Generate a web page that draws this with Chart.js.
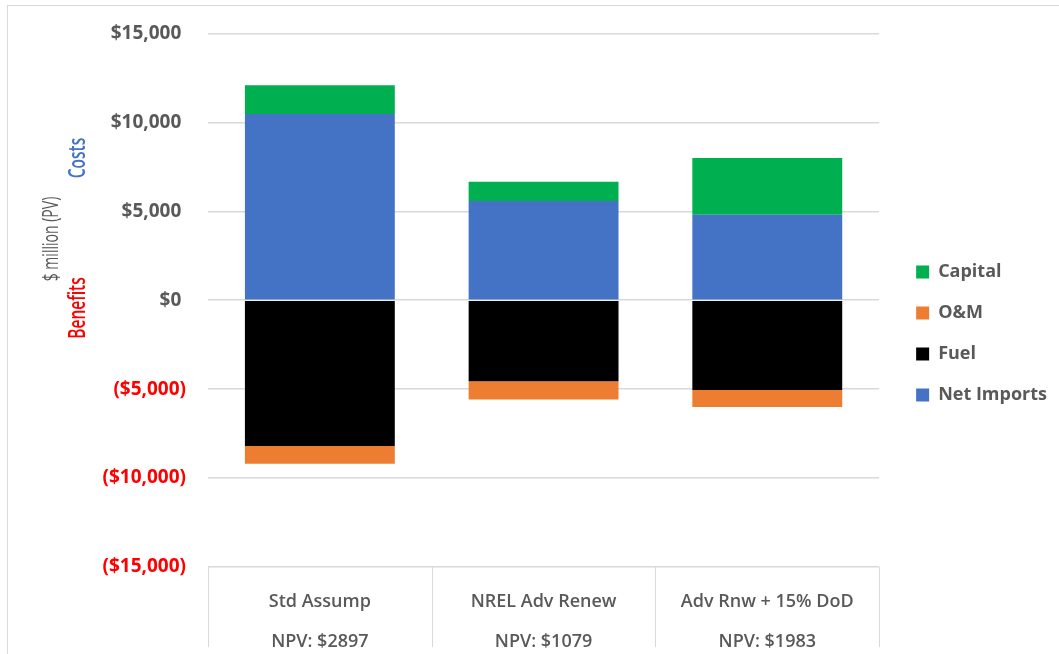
<!DOCTYPE html>
<html>
<head>
<meta charset="utf-8">
<script src="https://cdn.jsdelivr.net/npm/chart.js@4.4.1/dist/chart.umd.min.js"></script>
<style>
    html, body { margin: 0; padding: 0; background: #fff; overflow: hidden; }
    #frame { position: absolute; left: 7px; top: 5px; width: 1100px; height: 700px; border: 1px solid #d9d9d9; }
    #wrap { position: absolute; left: 0; top: 0; width: 1059px; height: 654px; }
</style>
</head>
<body>
<div id="frame"></div>
<div id="wrap"><canvas id="chart"></canvas></div>
<script>
    "use strict";

    // data ($ million PV)
    const categories = [
        ["Std Assump", "NPV: $2897"],
        ["NREL Adv Renew", "NPV: $1079"],
        ["Adv Rnw + 15% DoD", "NPV: $1983"],
    ];
    const netImports = [10470, 5580, 4800];
    const fuel = [-8200, -4550, -5050];
    const oandm = [-993, -1031, -957];
    const capital = [1620, 1080, 3190];
    const yTicks = [-15000, -10000, -5000, 0, 5000, 10000, 15000];

    const GRAY = "#595959";
    const RED = "#ff0000";
    const BLUE = "#4472c4";
    const FONT = "'Open Sans', 'Noto Sans', sans-serif";

    function money(v) {
        const s = "$" + Math.abs(v).toLocaleString("en-US");
        return v < 0 ? "(" + s + ")" : s + "\u2005";
    }

    // rotated three-colour axis title
    const axisTitle = {
        id: "axisTitle",
        afterDraw(chart) {
            const ctx = chart.ctx;
            const put = (text, x, y, color, weight, squeeze) => {
                ctx.save();
                ctx.translate(x, y);
                ctx.rotate(-Math.PI / 2);
                ctx.scale(squeeze, 1.25);
                ctx.font = weight + " 18px " + FONT;
                ctx.fillStyle = color;
                ctx.textAlign = "center";
                ctx.textBaseline = "middle";
                ctx.fillText(text, 0, 0);
                ctx.restore();
            };
            put("$ million (PV)", 52, 239, GRAY, "500", 0.78);
            put("Costs", 79, 158, BLUE, "600", 0.86);
            put("Benefits", 79, 308, RED, "600", 0.86);
        },
    };

    // table-like dividers under the category axis
    const catDividers = {
        id: "catDividers",
        afterDraw(chart) {
            const x = chart.scales.x;
            const area = chart.chartArea;
            const half = (x.getPixelForValue(1) - x.getPixelForValue(0)) / 2;
            const ctx = chart.ctx;
            ctx.save();
            ctx.strokeStyle = "#d9d9d9";
            ctx.lineWidth = 1;
            for (let i = 0; i <= categories.length; i++) {
                const px = Math.round(x.getPixelForValue(0) - half + i * half * 2) + 0.5;
                ctx.beginPath();
                ctx.moveTo(px, area.bottom);
                ctx.lineTo(px, area.bottom + 80);
                ctx.stroke();
            }
            ctx.restore();
        },
    };

    // nudge the legend block
    const legendNudge = {
        id: "legendNudge",
        afterLayout(chart) {
            const lg = chart.legend;
            lg.left += 14; lg.right += 14;
            lg.top -= 9; lg.bottom -= 9;
        },
    };

    const chart = new Chart(document.getElementById("chart"), {
        type: "bar",
        data: {
            labels: categories,
            datasets: [
                { label: "Net Imports", data: netImports, backgroundColor: "#4472c4" },
                { label: "Fuel", data: fuel, backgroundColor: "#000000" },
                { label: "O&M", data: oandm, backgroundColor: "#ed7d31" },
                { label: "Capital", data: capital, backgroundColor: "#00b050" },
            ],
        },
        options: {
            responsive: true,
            maintainAspectRatio: false,
            animation: false,
            datasets: {
                bar: { categoryPercentage: 1, barPercentage: 0.67, borderWidth: 0 },
            },
            layout: { padding: { top: 31, left: 0, right: 16, bottom: 0 } },
            plugins: {
                tooltip: { enabled: false },
                legend: {
                    position: "right",
                    reverse: true,
                    labels: {
                        boxWidth: 13,
                        boxHeight: 13,
                        padding: 23,
                        color: GRAY,
                        font: { family: FONT, size: 18, weight: "bold" },
                    },
                },
            },
            scales: {
                x: {
                    stacked: true,
                    grid: { display: false },
                    border: { display: false },
                    ticks: {
                        color: GRAY,
                        padding: 7,
                        maxRotation: 0,
                        font: { family: FONT, size: 18, weight: "600", lineHeight: "40px" },
                    },
                    afterFit: (s) => { s.height = 87; },
                },
                y: {
                    stacked: true,
                    min: yTicks[0],
                    max: yTicks[yTicks.length - 1],
                    afterBuildTicks: (s) => { s.ticks = yTicks.map((v) => ({ value: v })); },
                    grid: { color: "#d9d9d9", lineWidth: 1.5, drawTicks: false },
                    border: { display: false },
                    ticks: {
                        padding: 22,
                        color: (c) => (c.tick.value < 0 ? RED : GRAY),
                        font: { family: FONT, size: 19, weight: "bold" },
                        callback: (v) => money(v),
                    },
                    afterFit: (s) => { s.width = 208; },
                },
            },
        },
        plugins: [axisTitle, catDividers, legendNudge],
    });
</script>
</body>
</html>
